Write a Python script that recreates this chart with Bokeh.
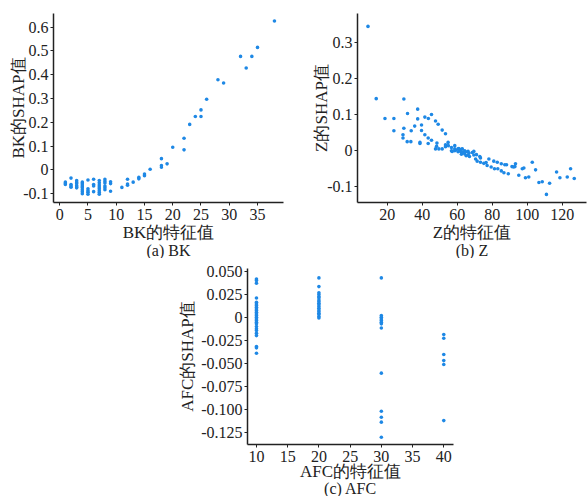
from bokeh.plotting import figure
from bokeh.layouts import column, row
from bokeh.models import Range1d, FixedTicker, CustomJSTickFormatter, Title, Spacer
from bokeh.embed import file_html
from bokeh.resources import INLINE

# ---------------- data ----------------
bk_x = [1, 1, 1,
        2, 2, 2, 2,
        3, 3, 3, 3, 3, 3,
        4, 4, 4, 4, 4, 4, 4, 4,
        5, 5, 5, 5, 5,
        6, 6, 6, 6,
        7, 7, 7, 7, 7, 7, 7, 7,
        8, 8, 8, 8, 8, 8,
        9, 9, 9,
        11, 12, 12, 12, 13, 14, 14, 15, 15, 16,
        18, 18, 18, 19, 20, 22, 22, 23, 24, 25, 25, 26,
        28, 29, 32, 33, 34, 35, 38]
bk_y = [-0.052, -0.058, -0.062,
        -0.035, -0.062, -0.068, -0.073,
        -0.045, -0.052, -0.058, -0.066, -0.072, -0.076,
        -0.052, -0.058, -0.064, -0.070, -0.076, -0.084, -0.092, -0.101,
        -0.043, -0.080, -0.088, -0.094, -0.103,
        -0.040, -0.062, -0.068, -0.092,
        -0.045, -0.055, -0.064, -0.072, -0.080, -0.088, -0.096, -0.103,
        -0.040, -0.048, -0.056, -0.068, -0.076, -0.084,
        -0.050, -0.058, -0.090,
        -0.074, -0.040, -0.060, -0.065, -0.052, -0.038, -0.032, -0.025, -0.018, 0.002,
        0.047, 0.018, 0.011, 0.025, 0.095, 0.133, 0.084, 0.191, 0.224, 0.252, 0.224, 0.297,
        0.379, 0.365, 0.477, 0.428, 0.477, 0.515, 0.626]

z_x = [9.0, 13.7, 18.7, 23.8, 23.8, 29.5, 29.5, 29.0, 29.0, 31.6, 31.4, 33.5, 33.7,
       35.7, 37.4, 37.4, 38.7, 38.7, 39.6, 39.6, 41.5, 41.5, 43.5, 43.4, 43.4, 45.3,
       45.3, 47.6, 48.4, 48.2, 47.6, 49.1, 49.5, 51.4, 51.4, 53.3, 53.3, 53.3, 54.8,
       54.9, 56.7, 56.7, 57.1, 58.6, 58.6, 58.6, 59.2, 60.5, 60.5, 60.9, 61.5, 62.4,
       62.4, 62.4, 62.9, 63.2, 64.3, 64.3, 64.8, 65.1, 66.2, 66.2, 66.7, 67.0, 68.6,
       69.5, 69.5, 70.5, 71.0, 71.4, 72.9, 73.3, 73.3, 75.2, 76.5, 77.1, 78.1, 79.4,
       80.9, 81.3, 82.9, 83.2, 85.2, 85.2, 86.7, 87.2, 88.2, 89.2, 91.3, 92.2, 93.0,
       93.3, 95.2, 97.2, 98.1, 99.0, 100.9, 102.9, 104.8, 106.7, 108.6, 111.0, 112.8,
       116.8, 118.7, 122.9, 124.8, 126.9]
z_y = [0.344, 0.144, 0.089, 0.089, 0.055, 0.143, 0.062, 0.044, 0.035, 0.103, 0.025, 0.025, 0.055,
       0.068, 0.115, 0.088, 0.023, 0.020, 0.071, 0.056, 0.093, 0.044, 0.089, 0.035, 0.020, 0.100,
       0.029, 0.082, 0.021, 0.012, 0.005, 0.073, 0.005, 0.057, 0.005, 0.047, 0.016, 0.011, 0.023,
       0.014, 0.009, 0.000, -0.002, 0.014, 0.005, 0.000, 0.002, 0.005, -0.003, 0.006, 0.000, 0.004,
       -0.004, -0.010, 0.005, -0.005, 0.000, -0.009, -0.003, -0.014, -0.002, -0.012, -0.007, -0.016, -0.005,
       -0.002, -0.012, -0.023, -0.011, -0.029, -0.016, -0.020, -0.032, -0.035, -0.033, -0.041, -0.023, -0.045,
       -0.029, -0.050, -0.032, -0.050, -0.036, -0.056, -0.061, -0.039, -0.039, -0.064, -0.044, -0.045, -0.044,
       -0.036, -0.068, -0.050, -0.048, -0.075, -0.073, -0.032, -0.053, -0.088, -0.086, -0.121, -0.090,
       -0.059, -0.075, -0.073, -0.050, -0.077]

afc_x = [10] * 26 + [20] * 18 + [30] * 13 + [40] * 6
afc_y = [0.0415, 0.0397, 0.0368, 0.0209, 0.0162, 0.0144, 0.0126, 0.0108, 0.0090, 0.0072,
         0.0054, 0.0036, 0.0018, 0.0, -0.0018, -0.0036, -0.0054, -0.0072, -0.0101, -0.0126,
         -0.0144, -0.0173, -0.0199, -0.0318, -0.0332, -0.0390,
         0.0426, 0.0332, 0.0264, 0.0245, 0.0224, 0.0210, 0.0188, 0.0170, 0.0152, 0.0134,
         0.0116, 0.0097, 0.0079, 0.0061, 0.0043, 0.0029, 0.0007, -0.0007,
         0.0426, 0.0018, 0.0, -0.0018, -0.0036, -0.0054, -0.0072, -0.0116, -0.0606, -0.1018,
         -0.1083, -0.1137, -0.1300,
         -0.0187, -0.0227, -0.0404, -0.0470, -0.0513, -0.1120]

bk_xticks = [0, 5, 10, 15, 20, 25, 30, 35]
bk_yticks = [-0.1, 0, 0.1, 0.2, 0.3, 0.4, 0.5, 0.6]
z_xticks = [20, 40, 60, 80, 100, 120]
z_yticks = [-0.1, 0, 0.1, 0.2, 0.3]
afc_xticks = [10, 15, 20, 25, 30, 35, 40]
afc_yticks = [-0.125, -0.1, -0.075, -0.05, -0.025, 0, 0.025, 0.05]

FONT = "Liberation Serif"
TXT = "#222222"
DOT = "#1E88E5"


def panel(x, y, xr, yr, xt, yt, ydec, xlabel, ylabel, caption,
          fw, fh, bl, br, bt, bb, ystand, xstand, tstand):
    p = figure(frame_width=fw, frame_height=fh, output_backend="svg", toolbar_location=None,
               x_range=Range1d(*xr), y_range=Range1d(*yr),
               min_border_left=bl, min_border_right=br, min_border_top=bt,
               min_border_bottom=bb)
    p.outline_line_color = None
    p.grid.visible = False
    p.background_fill_color = "white"
    p.scatter(x, y, size=3.6, color=DOT, line_color=None)
    p.xaxis.ticker = FixedTicker(ticks=xt)
    p.yaxis.ticker = FixedTicker(ticks=yt)
    p.yaxis.formatter = CustomJSTickFormatter(
        code="return Math.abs(tick) < 1e-9 ? '0' : tick.toFixed(%d)" % ydec)
    for ax in (p.xaxis[0], p.yaxis[0]):
        ax.axis_line_color = TXT
        ax.axis_line_width = 1.5
        ax.major_tick_line_color = TXT
        ax.major_tick_out = 3
        ax.major_tick_in = 0
        ax.minor_tick_line_color = None
        ax.major_label_text_font = FONT
        ax.major_label_text_font_size = "16px"
        ax.major_label_text_font_style = "normal"
        ax.major_label_text_color = TXT
        ax.axis_label_text_font = FONT
        ax.axis_label_text_font_size = "17px"
        ax.axis_label_text_font_style = "normal"
        ax.axis_label_text_color = TXT
    p.xaxis.axis_label = xlabel
    p.yaxis.axis_label = ylabel
    p.xaxis.major_label_standoff = 3
    p.yaxis.major_label_standoff = 2
    p.xaxis.axis_label_standoff = xstand
    p.yaxis.axis_label_standoff = ystand
    t = Title(text=caption, align="center", text_font=FONT, text_font_size="16px",
              text_font_style="normal", text_color=TXT, standoff=tstand)
    p.add_layout(t, "below")
    return p


p1 = panel(bk_x, bk_y, (-1.1, 39.6), (-0.1376, 0.6576), bk_xticks, bk_yticks, 1,
           "BK的特征值", "BK的SHAP值", "(a) BK",
           230, 189, 53, 15, 13, 56, -8, 0, -10)
p2 = panel(z_x, z_y, (3.0, 133.9), (-0.1434, 0.3797), z_xticks, z_yticks, 1,
           "Z的特征值", "Z的SHAP值", "(b) Z",
           229, 189, 59, 1, 13, 56, -7, 0, -10)
p3 = panel(afc_x, afc_y, (8.56, 41.56), (-0.1379, 0.0528), afc_xticks, afc_yticks, 3,
           "AFC的特征值", "AFC的SHAP值", "(c) AFC",
           206, 176, 74, 12, 10, 52, 1, -3, -11)

layout = column(row(p1, p2), row(Spacer(width=173, height=10), p3))

open("out.html", "w").write(file_html(layout, INLINE))
